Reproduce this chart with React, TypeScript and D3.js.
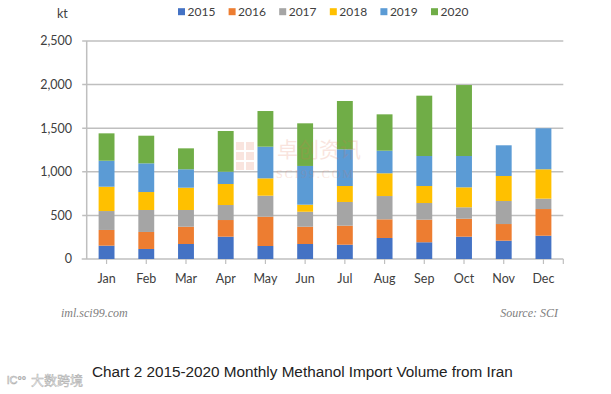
import * as d3 from "d3";

const months = ["Jan", "Feb", "Mar", "Apr", "May", "Jun", "Jul", "Aug", "Sep", "Oct", "Nov", "Dec"];
const years = ["2015", "2016", "2017", "2018", "2019", "2020"];
const v2015 = [153, 115, 172, 256, 149, 172, 164, 241, 192, 256, 210, 267];
const v2016 = [180, 195, 198, 191, 336, 198, 218, 214, 259, 206, 191, 306];
const v2017 = [217, 252, 192, 172, 241, 172, 272, 267, 191, 131, 264, 119];
const v2018 = [279, 206, 256, 241, 199, 81, 183, 261, 195, 229, 287, 337];
const v2019 = [298, 329, 211, 141, 363, 444, 421, 259, 344, 359, 352, 470];
const v2020 = [314, 317, 240, 467, 409, 489, 554, 417, 692, 814, 0, 0];
const yTicks = [0, 500, 1000, 1500, 2000, 2500];
const colors = ["#4472C4", "#ED7D31", "#A5A5A5", "#FFC000", "#5B9BD5", "#70AD47"];

const W = 611, H = 394;
const plot = { left: 86.7, right: 563.3, top: 41, bottom: 259 };
const font = "Lato, 'Open Sans', sans-serif";

const App = () => {
  const series = [v2015, v2016, v2017, v2018, v2019, v2020];
  const rows = months.map((m, i) => {
    const r: Record<string, any> = { month: m };
    years.forEach((y, k) => (r[y] = series[k][i]));
    return r;
  });
  const stacked = d3.stack<any>().keys(years)(rows);

  const x = d3.scaleBand().domain(months).range([plot.left, plot.right])
    .paddingInner(0.6).paddingOuter(0.3);
  const y = d3.scaleLinear().domain([0, 2500]).range([plot.bottom, plot.top]);
  const color = d3.scaleOrdinal<string>().domain(years).range(colors);

  return (
    <svg width={W} height={H} style={{ position: "absolute", left: 0, top: 0, background: "#fff" }}>
      {/* gridlines */}
      {yTicks.map(t => (
        <g key={t}>
          <line x1={t === 0 ? plot.left - 5 : plot.left - 4.5} x2={plot.right} y1={y(t)} y2={y(t)}
            stroke="#bfbfbf" strokeWidth={1.5} />
          <text x={72} y={y(t)} dy="0.35em" textAnchor="end" fontFamily={font} fontSize={12.5} fill="#404040">
            {d3.format(",")(t)}
          </text>
        </g>
      ))}
      <line x1={plot.left} x2={plot.left} y1={plot.top} y2={plot.bottom} stroke="#bfbfbf" strokeWidth={1.5} />

      {/* bars */}
      {stacked.map(s => (
        <g key={s.key} fill={color(s.key)}>
          {s.map((d, i) => d[1] - d[0] > 0 ? (
            <rect key={i} x={x(months[i])} width={x.bandwidth()} y={y(d[1])} height={y(d[0]) - y(d[1])} />
          ) : null)}
        </g>
      ))}

      {/* x axis ticks and labels */}
      {months.map(m => (
        <g key={m}>
          <line x1={x(m)! + x.bandwidth() / 2} x2={x(m)! + x.bandwidth() / 2} y1={plot.bottom} y2={plot.bottom + 5}
            stroke="#bfbfbf" strokeWidth={1.2} />
          <text x={x(m)! + x.bandwidth() / 2} y={279} dy="0.35em" textAnchor="middle" fontFamily={font}
            fontSize={12.5} fill="#404040">{m}</text>
        </g>
      ))}
      <line x1={plot.right} x2={plot.right} y1={plot.bottom} y2={plot.bottom + 5} stroke="#bfbfbf" strokeWidth={1.2} />

      {/* unit + legend */}
      <text x={57} y={14} dy="0.35em" fontFamily={font} fontSize={12.5} fill="#404040">kt</text>
      {years.map((yr, i) => (
        <g key={yr} transform={`translate(${178 + i * 50.6},11.7)`}>
          <rect x={0} y={-3.5} width={7} height={7} fill={color(yr)} />
          <text x={9.5} dy="0.35em" fontFamily={font} fontSize={12} fill="#404040">{yr}</text>
        </g>
      ))}

      {/* faint watermark */}
      <g opacity={0.18}>
        {[0, 1, 2].map(r => [0, 1].map(c => (
          <rect key={`${r}-${c}`} x={236 + c * 10} y={142 + r * 10} width={8} height={8} fill="#e07050" />
        )))}
        <text x={277} y={150} dy="0.35em" fontFamily="'Noto Sans CJK SC'" fontSize={21} fill="#e07050">卓创资讯</text>
        <text x={276} y={174} dy="0.35em" fontFamily="'Liberation Serif'" fontSize={12} fill="#e07050"
          letterSpacing={2}>SCI99.COM</text>
      </g>

      {/* footer */}
      <text x={61} y={313} dy="0.35em" fontFamily="'Liberation Serif', serif" fontStyle="italic" fontSize={12}
        fill="#808080">iml.sci99.com</text>
      <text x={558} y={313} dy="0.35em" textAnchor="end" fontFamily="'Liberation Serif', serif" fontStyle="italic"
        fontSize={12} fill="#808080">Source: SCI</text>

      <text x={7} y={380} dy="0.35em" fontFamily="'Liberation Sans', sans-serif" fontSize={11} fill="#fff"
        stroke="#b0b0b0" strokeWidth={0.6}>lC°°</text>
      <text x={31} y={380} dy="0.35em" fontFamily="'Noto Sans CJK SC'" fontSize={13} fill="#f0f0f0"
        stroke="#b0b0b0" strokeWidth={0.5}>大数跨境</text>
      <text x={92} y={372} dy="0.35em" fontFamily="'Liberation Sans', Arial, sans-serif" fontSize={15.3}
        fill="#222">Chart 2 2015-2020 Monthly Methanol Import Volume from Iran</text>
    </svg>
  );
};

export default App;
